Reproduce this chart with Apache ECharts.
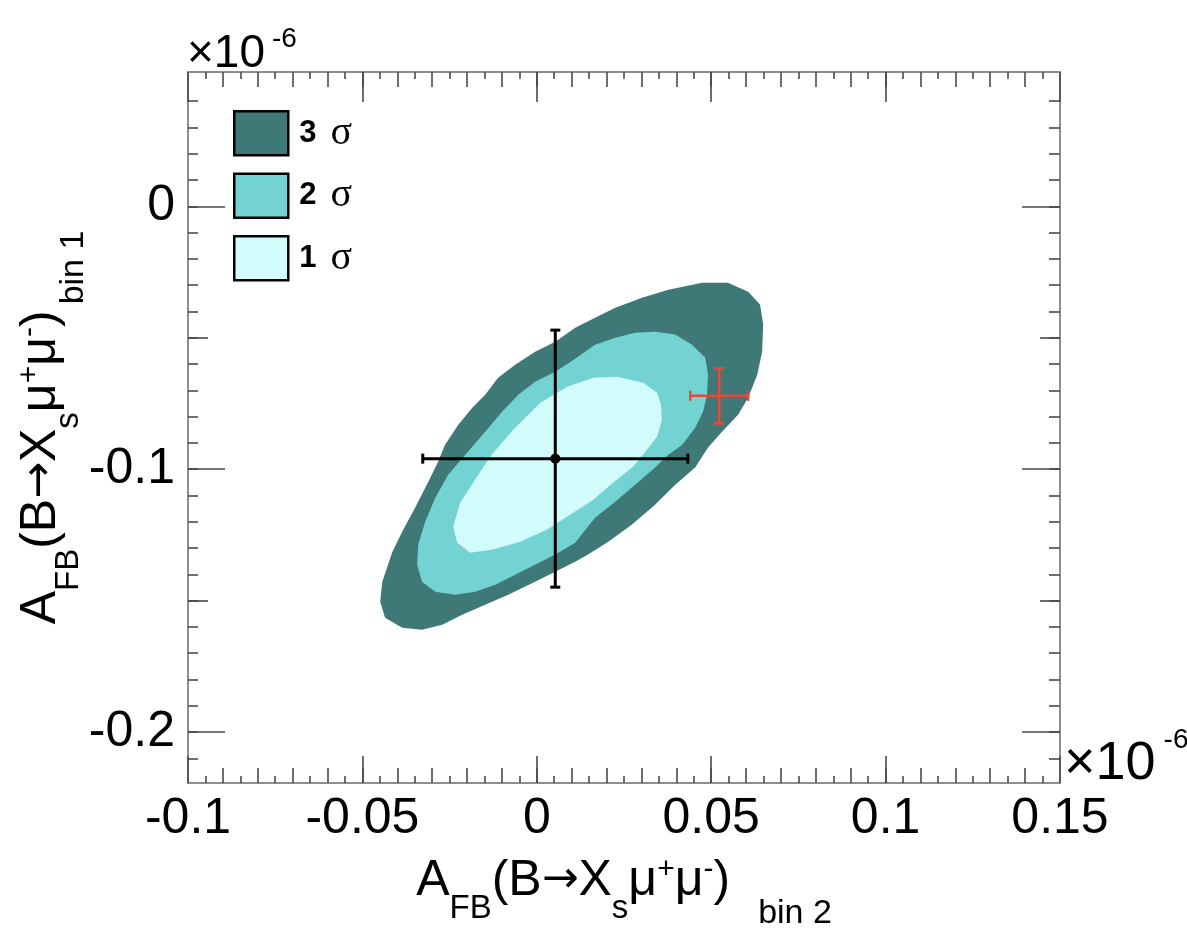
<!DOCTYPE html>
<html>
<head>
<meta charset="UTF-8">
<title>A_FB bin 1 vs bin 2</title>
<script src="https://cdn.jsdelivr.net/npm/echarts@6/dist/echarts.min.js"></script>
<style>
    html, body { margin: 0; padding: 0; background: #fff; }
    #main { width: 1187px; height: 932px; }
</style>
</head>
<body>
<div id="main"></div>
<script>
    // axis ranges, units of 10^-6
    var xRange = [-0.1, 0.15];
    var yRange = [-0.2194, 0.0511];
    var xLabelTicks = [-0.1, -0.05, 0, 0.05, 0.1, 0.15];
    var yLabelTicks = [-0.2, -0.1, 0];
    var yMidTicks = [-0.15, -0.05];

    // contour outlines [A_FB bin 2, A_FB bin 1]
    var sigma3 = [
        [0.0474, -0.0291], [0.0548, -0.0291], [0.0606, -0.0325], [0.0640, -0.0374], [0.0649, -0.0450],
        [0.0646, -0.0553], [0.0632, -0.0641], [0.0606, -0.0728], [0.0577, -0.0793], [0.0531, -0.0858],
        [0.0491, -0.0918], [0.0454, -0.0994], [0.0397, -0.1059], [0.0339, -0.1135], [0.0273, -0.1211],
        [0.0205, -0.1276], [0.0147, -0.1325], [0.0110, -0.1352], [0.0053, -0.1390], [-0.0005, -0.1428],
        [-0.0082, -0.1478], [-0.0148, -0.1516], [-0.0214, -0.1554], [-0.0271, -0.1592], [-0.0329, -0.1611],
        [-0.0386, -0.1603], [-0.0435, -0.1565], [-0.0449, -0.1504], [-0.0443, -0.1428], [-0.0414, -0.1314],
        [-0.0386, -0.1238], [-0.0349, -0.1147], [-0.0311, -0.1048], [-0.0283, -0.0972], [-0.0263, -0.0907],
        [-0.0225, -0.0831], [-0.0185, -0.0766], [-0.0148, -0.0717], [-0.0111, -0.0652], [-0.0062, -0.0603],
        [-0.0005, -0.0553], [0.0053, -0.0515], [0.0110, -0.0462], [0.0167, -0.0424], [0.0225, -0.0386],
        [0.0302, -0.0348], [0.0377, -0.0317]
    ];
    var sigma2 = [
        [0.0339, -0.0477], [0.0397, -0.0488], [0.0445, -0.0527], [0.0483, -0.0576], [0.0491, -0.0641],
        [0.0488, -0.0717], [0.0477, -0.0781], [0.0454, -0.0842], [0.0417, -0.0907], [0.0377, -0.0945],
        [0.0339, -0.0994], [0.0282, -0.1059], [0.0225, -0.1124], [0.0167, -0.1185], [0.0110, -0.1280],
        [0.0053, -0.1325], [-0.0005, -0.1364], [-0.0062, -0.1402], [-0.0119, -0.1440], [-0.0177, -0.1466],
        [-0.0234, -0.1478], [-0.0291, -0.1466], [-0.0329, -0.1428], [-0.0343, -0.1364], [-0.0340, -0.1287],
        [-0.0320, -0.1200], [-0.0291, -0.1109], [-0.0254, -0.1021], [-0.0205, -0.0945], [-0.0148, -0.0858],
        [-0.0099, -0.0781], [-0.0053, -0.0717], [-0.0005, -0.0667], [0.0053, -0.0629], [0.0110, -0.0580],
        [0.0167, -0.0527], [0.0225, -0.0500], [0.0282, -0.0481]
    ];
    var sigma1 = [
        [0.0230, -0.0648], [0.0305, -0.0671], [0.0345, -0.0709], [0.0356, -0.0755], [0.0359, -0.0812],
        [0.0345, -0.0876], [0.0316, -0.0926], [0.0276, -0.0991], [0.0219, -0.1051], [0.0162, -0.1116],
        [0.0104, -0.1166], [0.0030, -0.1230], [-0.0048, -0.1276], [-0.0125, -0.1306], [-0.0191, -0.1318],
        [-0.0228, -0.1280], [-0.0240, -0.1219], [-0.0220, -0.1128], [-0.0182, -0.1051], [-0.0134, -0.0953],
        [-0.0068, -0.0850], [0.0010, -0.0747], [0.0087, -0.0686], [0.0162, -0.0652]
    ];

    // points with errors: [x, y, xerr, yerr]
    var measured = [[0.0053, -0.0960, 0.0380, 0.0489]];
    var prediction = [[0.0523, -0.0721, 0.0083, 0.0105]];

    var myChart = echarts.init(document.getElementById('main'));

    function ticksBetween(a, b, step) {
        var out = [];
        var n = Math.round((b - a) / step);
        for (var i = 0; i <= n; i++) out.push(+(a + i * step).toFixed(4));
        return out;
    }
    var xMidTicks = ticksBetween(-0.09, 0.14, 0.01);
    var xMinorTicks = ticksBetween(-0.095, 0.145, 0.01);
    var yMinorTicks = ticksBetween(-0.21, 0.04, 0.01);

    var sans = 'Liberation Sans';
    // sub/superscripts: line box is 100 high, main text sits in the middle
    var nameRich = {
        m: {fontFamily: sans, fontSize: 50, lineHeight: 100, color: '#000'},
        a: {fontFamily: 'DejaVu Sans', fontSize: 44, lineHeight: 100, color: '#000'},
        s: {fontFamily: sans, fontSize: 33, lineHeight: 40, verticalAlign: 'bottom', color: '#000', padding: [0, 0, 6, 0]},
        p: {fontFamily: sans, fontSize: 30, lineHeight: 40, verticalAlign: 'top', color: '#000', padding: [24, 0, 0, 0]},
        t: {fontFamily: sans, fontSize: 34, lineHeight: 40, verticalAlign: 'bottom', color: '#000', padding: [0, 0, 0, 28]},
        u: {fontFamily: sans, fontSize: 34, lineHeight: 40, verticalAlign: 'bottom', color: '#000', padding: [0, 0, 0, 6]}
    };

    function mkAxis(kind, pos, ticks, len, withLine, withLabels) {
        var r = kind === 'x' ? xRange : yRange;
        return {
            type: 'value', position: pos, min: r[0], max: r[1],
            axisLine: {show: withLine, onZero: false, lineStyle: {color: '#8f8f8f', width: 2}},
            axisTick: {show: true, inside: true, length: len, customValues: ticks,
                lineStyle: {color: '#4a4a4a', width: 1.6}},
            axisLabel: withLabels ? {
                show: true, customValues: ticks, fontFamily: sans, fontSize: 50, color: '#000',
                margin: kind === 'x' ? 11 : 13,
                formatter: function (v) { return String(+(+v).toFixed(3)); }
            } : {show: false},
            splitLine: {show: false}
        };
    }

    var xAxes = [
        mkAxis('x', 'bottom', xLabelTicks, 27, true, true),
        mkAxis('x', 'bottom', xMidTicks, 15, false, false),
        mkAxis('x', 'bottom', xMinorTicks, 7, false, false),
        mkAxis('x', 'top', xLabelTicks, 30, true, false),
        mkAxis('x', 'top', xMidTicks, 15, false, false),
        mkAxis('x', 'top', xMinorTicks, 7, false, false)
    ];
    xAxes[0].name = '{m|A}{s|FB}{m|(B}{a|→}{m|X}{s|s}{m|μ}{p|+}{m|μ}{p|-}{m|)}{t|bin 2}';
    xAxes[0].nameLocation = 'middle';
    xAxes[0].nameGap = 48;
    xAxes[0].nameMoveOverlap = false;
    xAxes[0].nameTextStyle = {rich: nameRich};

    var yAxes = [
        mkAxis('y', 'left', yLabelTicks, 37, true, true),
        mkAxis('y', 'left', yMidTicks, 20, false, false),
        mkAxis('y', 'left', yMinorTicks, 10, false, false),
        mkAxis('y', 'right', yLabelTicks, 38, true, false),
        mkAxis('y', 'right', yMidTicks, 20, false, false),
        mkAxis('y', 'right', yMinorTicks, 11, false, false)
    ];
    yAxes[0].name = '{m|A}{s|FB}{m|(B}{a|→}{m|X}{s|s}{m|μ}{p|+}{m|μ}{p|-}{m|)}{u|bin 1}';
    yAxes[0].nameLocation = 'middle';
    yAxes[0].nameGap = 97;
    yAxes[0].nameMoveOverlap = false;
    yAxes[0].nameTextStyle = {rich: nameRich};

    function contour(name, pts, color) {
        return {
            name: name, type: 'custom', coordinateSystem: 'cartesian2d',
            itemStyle: {color: color},
            data: [pts[0]],
            silent: true,
            renderItem: function (params, api) {
                return {
                    type: 'polygon',
                    shape: {points: pts.map(function (p) { return api.coord(p); })},
                    style: {fill: color}
                };
            }
        };
    }

    function errorCross(name, data, color, lw, cap, dot) {
        return {
            name: name, type: 'custom', coordinateSystem: 'cartesian2d', data: data, silent: true, z: 5,
            renderItem: function (params, api) {
                var x = api.value(0), y = api.value(1), ex = api.value(2), ey = api.value(3);
                var c = api.coord([x, y]);
                var l = api.coord([x - ex, y]), r = api.coord([x + ex, y]);
                var t = api.coord([x, y + ey]), b = api.coord([x, y - ey]);
                var st = {stroke: color, lineWidth: lw};
                var kids = [
                    {type: 'line', shape: {x1: l[0], y1: l[1], x2: r[0], y2: r[1]}, style: st},
                    {type: 'line', shape: {x1: t[0], y1: t[1], x2: b[0], y2: b[1]}, style: st},
                    {type: 'line', shape: {x1: l[0], y1: l[1] - cap, x2: l[0], y2: l[1] + cap}, style: st},
                    {type: 'line', shape: {x1: r[0], y1: r[1] - cap, x2: r[0], y2: r[1] + cap}, style: st},
                    {type: 'line', shape: {x1: t[0] - cap, y1: t[1], x2: t[0] + cap, y2: t[1]}, style: st},
                    {type: 'line', shape: {x1: b[0] - cap, y1: b[1], x2: b[0] + cap, y2: b[1]}, style: st}
                ];
                if (dot) kids.push({type: 'circle', shape: {cx: c[0], cy: c[1], r: dot}, style: {fill: color}});
                return {type: 'group', children: kids};
            }
        };
    }

    var colors = {s3: '#3f7977', s2: '#72d3d2', s1: '#d2fcfc'};
    var box = {borderColor: '#000', borderWidth: 2.5};

    var option = {
        animation: false,
        backgroundColor: '#fff',
        grid: {left: 188, top: 72, width: 872, height: 711, containLabel: false, outerBoundsMode: 'none'},
        xAxis: xAxes,
        yAxis: yAxes,
        legend: {
            orient: 'vertical', left: 233, top: 110, padding: 0,
            itemWidth: 54, itemHeight: 44, itemGap: 16,
            selectedMode: false,
            data: [
                {name: '3σ', icon: 'rect', itemStyle: box},
                {name: '2σ', icon: 'rect', itemStyle: box},
                {name: '1σ', icon: 'rect', itemStyle: box}
            ],
            formatter: function (n) { return '{b|' + n.charAt(0) + '}{g|σ}'; },
            textStyle: {
                rich: {
                    b: {fontFamily: sans, fontWeight: 'bold', fontSize: 31, color: '#000', padding: [0, 0, 0, 6]},
                    g: {fontFamily: 'Liberation Serif', fontSize: 40, color: '#000', padding: [0, 0, 0, 14]}
                }
            }
        },
        graphic: [
            {type: 'text', left: 187, top: 17, style: {
                text: '{m|×10}{e|-6}',
                rich: {
                    m: {fontFamily: sans, fontSize: 46, lineHeight: 60, verticalAlign: 'bottom', fill: '#000'},
                    e: {fontFamily: sans, fontSize: 28, lineHeight: 30, verticalAlign: 'top', fill: '#000', padding: [8, 0, 0, 7]}
                }
            }},
            {type: 'text', left: 1064, top: 721, style: {
                text: '{m|×10}{e|-6}',
                rich: {
                    m: {fontFamily: sans, fontSize: 54, lineHeight: 70, verticalAlign: 'bottom', fill: '#000'},
                    e: {fontFamily: sans, fontSize: 28, lineHeight: 30, verticalAlign: 'top', fill: '#000', padding: [5, 0, 0, 8]}
                }
            }}
        ],
        series: [
            contour('3σ', sigma3, colors.s3),
            contour('2σ', sigma2, colors.s2),
            contour('1σ', sigma1, colors.s1),
            errorCross('measured', measured, '#000', 3, 5, 5),
            errorCross('prediction', prediction, '#e8483c', 2.5, 5, 0)
        ]
    };
    myChart.setOption(option);
</script>
</body>
</html>
